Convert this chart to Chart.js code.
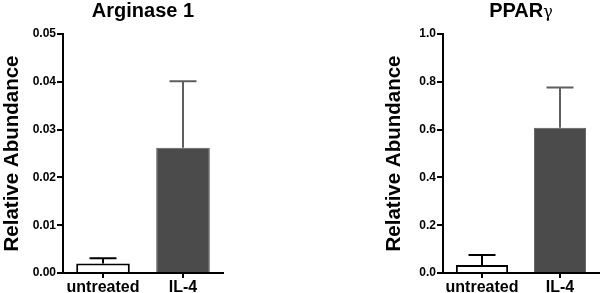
<!DOCTYPE html>
<html>
<head>
<meta charset="utf-8">
<script src="https://cdn.jsdelivr.net/npm/chart.js@4.4.1/dist/chart.umd.min.js"></script>
<style>
  html, body { margin: 0; padding: 0; background: #fff; }
  body { width: 600px; height: 293px; position: relative; overflow: hidden; }
  canvas { position: absolute; top: 0; }
  #c1 { left: 0; }
  #c2 { left: 370px; }
</style>
</head>
<body>
<canvas id="c1" width="230" height="293"></canvas>
<canvas id="c2" width="230" height="293"></canvas>
<script>
// ---- data ----
const categories = ['untreated', 'IL-4'];
const arginaseMean = [0.0020, 0.0262];
const arginaseSem = [0.0011, 0.0139];
const pparMean = [0.033, 0.608];
const pparSem = [0.042, 0.168];
const arginaseTicks = [0, 0.01, 0.02, 0.03, 0.04, 0.05];
const pparTicks = [0, 0.2, 0.4, 0.6, 0.8, 1.0];

const FONT = "'Liberation Sans', Arial, Helvetica, sans-serif";

const errorBarPlugin = {
  id: 'errorBars',
  afterDatasetsDraw(chart, args, opts) {
    const ctx = chart.ctx;
    const meta = chart.getDatasetMeta(0);
    const y = chart.scales.y;
    const means = opts.means, sems = opts.sems;
    meta.data.forEach((bar, i) => {
      const x = bar.x;
      const y0 = y.getPixelForValue(means[i]);
      const y1 = y.getPixelForValue(means[i] + sems[i]);
      ctx.save();
      ctx.strokeStyle = opts.colors[i];
      ctx.lineWidth = 2;
      ctx.beginPath();
      ctx.moveTo(x, y0);
      ctx.lineTo(x, y1);
      ctx.moveTo(x - opts.cap / 2, y1);
      ctx.lineTo(x + opts.cap / 2, y1);
      ctx.stroke();
      ctx.restore();
    });
  }
};

// Title centred over the plot area, drawn in runs (bold text + plain symbol)
const centredTitlePlugin = {
  id: 'centredTitle',
  afterDraw(chart, args, opts) {
    const ctx = chart.ctx;
    const area = chart.chartArea;
    ctx.save();
    ctx.fillStyle = '#000';
    ctx.textBaseline = 'middle';
    const widths = opts.runs.map(r => { ctx.font = r.font; return ctx.measureText(r.text).width; });
    const total = widths.reduce((a, b) => a + b, 0);
    let x = (area.left + area.right) / 2 - total / 2;
    opts.runs.forEach((r, i) => {
      ctx.font = r.font;
      ctx.textAlign = 'left';
      ctx.fillText(r.text, x, opts.y + (r.dy || 0));
      x += widths[i];
    });
    ctx.restore();
  }
};

function makeChart(id, titleRuns, means, sems, ticks, decimals, yWidth, yTitlePad, rightPad) {
  const max = ticks[ticks.length - 1];
  return new Chart(document.getElementById(id), {
    type: 'bar',
    data: {
      labels: categories,
      datasets: [{
        data: means,
        backgroundColor: ['#ffffff', '#4b4b4b'],
        borderColor: ['#000000', '#5a5a5a'],
        borderWidth: [2, 1],
        borderSkipped: 'bottom',
        barPercentage: 0.67,
        categoryPercentage: 1.0
      }]
    },
    options: {
      responsive: false,
      animation: false,
      devicePixelRatio: 1,
      layout: { padding: { left: 0, right: rightPad, top: 34, bottom: 0 } },
      plugins: {
        legend: { display: false },
        tooltip: { enabled: false },
        title: { display: false },
        centredTitle: { runs: titleRuns, y: 11 },
        errorBars: {
          means: means, sems: sems, cap: 27,
          colors: ['#000000', '#5f5f5f']
        }
      },
      scales: {
        x: {
          offset: true,
          grid: { display: true, drawOnChartArea: false, drawTicks: true, tickLength: 5, color: '#000', lineWidth: 2, offset: false },
          border: { display: true, color: '#000', width: 2 },
          ticks: { color: '#000', font: { family: FONT, size: 16, weight: 'bold' }, padding: 0, maxRotation: 0 },
          afterFit(s) { s.height = 20; }
        },
        y: {
          min: 0, max: max,
          afterBuildTicks(s) { s.ticks = ticks.map(v => ({ value: v })); },
          grid: { display: true, drawOnChartArea: false, drawTicks: true, tickLength: 6, color: '#000', lineWidth: 2 },
          border: { display: true, color: '#000', width: 2 },
          ticks: {
            color: '#000', padding: 1,
            font: { family: FONT, size: 12, weight: 'bold' },
            callback: v => Number(v).toFixed(decimals)
          },
          title: {
            display: true, text: 'Relative Abundance', color: '#000',
            font: { family: FONT, size: 20.5, weight: 'bold' },
            padding: { top: yTitlePad, bottom: 0 }
          },
          afterFit(s) { s.width = yWidth; }
        }
      }
    },
    plugins: [errorBarPlugin, centredTitlePlugin]
  });
}

makeChart('c1', [{ text: 'Arginase 1', font: "bold 20px " + FONT }],
  arginaseMean, arginaseSem, arginaseTicks, 2, 63, 0, 7);
makeChart('c2', [{ text: 'PPAR', font: "bold 20px " + FONT }, { text: 'γ', font: "16px 'DejaVu Serif', serif", dy: 2 }],
  pparMean, pparSem, pparTicks, 1, 73, 12, 1);
</script>
</body>
</html>
